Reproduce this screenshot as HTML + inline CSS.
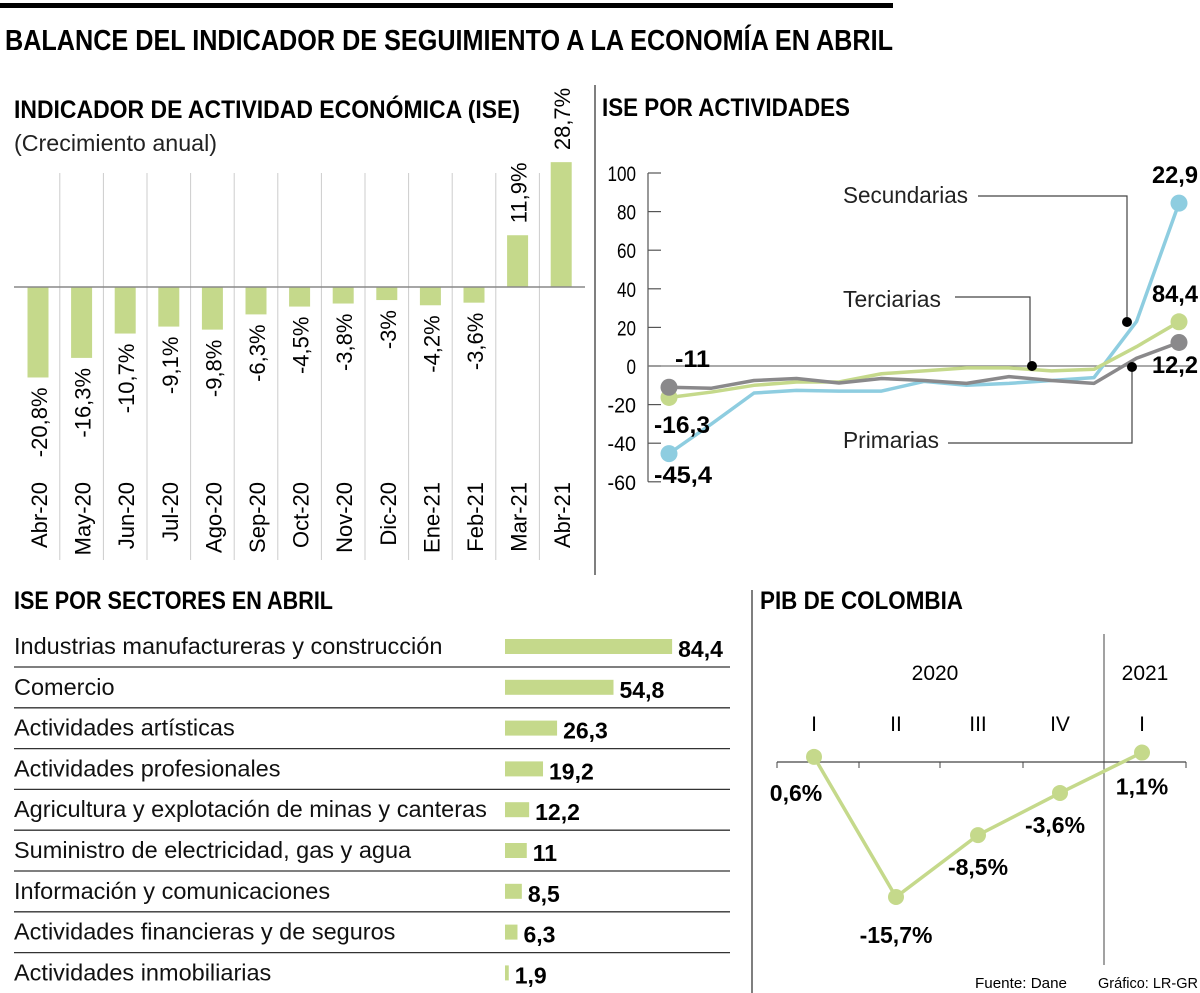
<!DOCTYPE html>
<html><head><meta charset="utf-8"><style>
body{margin:0;background:#fff}
svg{display:block;font-family:"Liberation Sans Narrow","Liberation Sans",sans-serif}
.b{font-weight:bold}
</style></head><body>
<svg id="s" width="1200" height="993" viewBox="0 0 1200 993">
<rect x="0" y="3" width="893" height="5" fill="#000"/>
<text x="5" y="50" font-size="29" class="b" textLength="888" lengthAdjust="spacingAndGlyphs">BALANCE DEL INDICADOR DE SEGUIMIENTO A LA ECONOMÍA EN ABRIL</text>
<text x="14" y="118" font-size="25" class="b" textLength="506" lengthAdjust="spacingAndGlyphs">INDICADOR DE ACTIVIDAD ECONÓMICA (ISE)</text>
<text x="14" y="151" font-size="23" fill="#222" textLength="203" lengthAdjust="spacingAndGlyphs">(Crecimiento anual)</text>
<text x="602" y="116" font-size="25" class="b" textLength="248" lengthAdjust="spacingAndGlyphs">ISE POR ACTIVIDADES</text>
<text x="14" y="609" font-size="25" class="b" textLength="319" lengthAdjust="spacingAndGlyphs">ISE POR SECTORES EN ABRIL</text>
<text x="760" y="609" font-size="25" class="b" textLength="203" lengthAdjust="spacingAndGlyphs">PIB DE COLOMBIA</text>
<line x1="595" y1="85" x2="595" y2="575" stroke="#555" stroke-width="1.5"/>
<line x1="752" y1="590" x2="752" y2="993" stroke="#555" stroke-width="1.5"/>
<text x="975" y="988" font-size="15" textLength="92" lengthAdjust="spacingAndGlyphs">Fuente: Dane</text>
<text x="1098" y="988" font-size="15" textLength="100" lengthAdjust="spacingAndGlyphs">Gráfico: LR-GR</text>
<g id="g1"></g><g id="g2"></g><g id="g3"></g><g id="g4"></g>
</svg>
<script>
// Chart 1: ISE monthly
const months=["Abr-20","May-20","Jun-20","Jul-20","Ago-20","Sep-20","Oct-20","Nov-20","Dic-20","Ene-21","Feb-21","Mar-21","Abr-21"];
const iseVals=[-20.8,-16.3,-10.7,-9.1,-9.8,-6.3,-4.5,-3.8,-3,-4.2,-3.6,11.9,28.7];
const iseLabels=["-20,8%","-16,3%","-10,7%","-9,1%","-9,8%","-6,3%","-4,5%","-3,8%","-3%","-4,2%","-3,6%","11,9%","28,7%"];
// Chart 2: ISE by activities
const actTicks=[100,80,60,40,20,0,-20,-40,-60];
const secundarias=[-45.4,-30,-14,-12.6,-13,-13,-8,-10,-9,-7.5,-6,23,84.4];
const terciarias=[-16.3,-13.5,-10,-8.3,-8.3,-4,-2.5,-1,-1,-2.5,-1.7,10,22.9];
const primarias=[-11,-11.5,-7.5,-6.5,-8.8,-6.5,-7.5,-9,-5.5,-7.5,-9,4,12.2];
// Chart 3: sectors
const sectors=["Industrias manufactureras y construcción","Comercio","Actividades artísticas","Actividades profesionales","Agricultura y explotación de minas y canteras","Suministro de electricidad, gas y agua","Información y comunicaciones","Actividades financieras y de seguros","Actividades inmobiliarias"];
const sectorVals=[84.4,54.8,26.3,19.2,12.2,11,8.5,6.3,1.9];
const sectorLabels=["84,4","54,8","26,3","19,2","12,2","11","8,5","6,3","1,9"];
// Chart 4: PIB
const quarters=["I","II","III","IV","I"];
const pibVals=[0.6,-15.7,-8.5,-3.6,1.1];
const pibLabels=["0,6%","-15,7%","-8,5%","-3,6%","1,1%"];

const NS="http://www.w3.org/2000/svg";
function mk(p,tag,at,txt){const e=document.createElementNS(NS,tag);for(const k in at)e.setAttribute(k,at[k]);if(txt!==undefined)e.textContent=txt;p.appendChild(e);return e;}
const G="#c5d98b";

// ---- chart 1
const g1=document.getElementById('g1');
const x1=i=>38+i*43.6, y1=v=>287-v*4.35;
for(let i=1;i<13;i++){const l=mk(g1,'line',{x1:x1(i)-21.8,y1:173,x2:x1(i)-21.8,y2:560,stroke:'#ccc','stroke-width':1});

}
months.forEach((m,i)=>{
 const v=iseVals[i];const top=Math.min(y1(v),y1(0)),h=Math.abs(y1(v)-y1(0));
 const r=mk(g1,'rect',{x:x1(i)-10.5,y:top,width:21,height:h,fill:G});
 
 
 const cx=x1(i)+9;
 const t=mk(g1,'text',{x:0,y:0,'font-size':22,'text-anchor':'end',transform:`translate(${cx},482) rotate(-90)`},m);
 
 
 let vt;
 if(v<0){vt=mk(g1,'text',{x:0,y:0,'font-size':22,'text-anchor':'end',transform:`translate(${cx},${y1(v)+10}) rotate(-90)`},iseLabels[i]);}
 else{vt=mk(g1,'text',{x:0,y:0,'font-size':22,'text-anchor':'start',transform:`translate(${cx},${y1(v)-12}) rotate(-90)`},iseLabels[i]);}
 
 
});
const z1=mk(g1,'line',{x1:14,y1:287,x2:585,y2:287,stroke:'#888','stroke-width':1.5});



// ---- chart 2
const g2=document.getElementById('g2');
const x2=i=>669+i*42.5, y2=v=>366-v*1.93;
const ax=mk(g2,'line',{x1:648,y1:y2(100),x2:648,y2:y2(-60),stroke:'#555','stroke-width':1.2});


actTicks.forEach(t=>{
 const tl=mk(g2,'line',{x1:648,y1:y2(t),x2:661,y2:y2(t),stroke:'#555','stroke-width':1.2});
 
 
 const s=String(t);
 const tt=mk(g2,'text',{x:636,y:y2(t)+8,'font-size':21,'text-anchor':'end',textLength:s.length*9.5,lengthAdjust:'spacingAndGlyphs'},s);
 
 
});
const z2=mk(g2,'line',{x1:648,y1:y2(0),x2:1190,y2:y2(0),stroke:'#777','stroke-width':1.2});


function series(vals,col,name){
 const l=mk(g2,'polyline',{points:vals.map((v,i)=>x2(i)+','+y2(v)).join(' '),fill:'none',stroke:col,'stroke-width':3.5,'stroke-linejoin':'round'});
 
 
 [0,vals.length-1].forEach(i=>{const c=mk(g2,'circle',{cx:x2(i),cy:y2(vals[i]),r:8.5,fill:col});
 
 });
}
series(secundarias,'#8ecde0','secundarias');
series(terciarias,G,'terciarias');
series(primarias,'#8a898b','primarias');
const ann=[["Secundarias",843,203,"M978,196 H1127 V322",1127,322,125],["Terciarias",843,307,"M955,297 H1030 V366",1032,366,98],["Primarias",843,448,"M948,443 H1132 V367",1132,367,96]];
ann.forEach(a=>{
 const t=mk(g2,'text',{x:a[1],y:a[2],'font-size':23,fill:'#222',textLength:a[6],lengthAdjust:'spacingAndGlyphs'},a[0]);
 
 
 const p=mk(g2,'path',{d:a[3],fill:'none',stroke:'#444','stroke-width':1.2});
 
 
 const d=mk(g2,'circle',{cx:a[4],cy:a[5],r:5,fill:'#000'});
 
 
});
[["22,9",1152,183,46],["84,4",1152,302,46],["12,2",1152,373,46],["-11",675,367,35],["-16,3",654,433,56],["-45,4",654,483,58]].forEach(a=>{
 const t=mk(g2,'text',{x:a[1],y:a[2],'font-size':24,'font-weight':'bold',textLength:a[3],lengthAdjust:'spacingAndGlyphs'},a[0]);
 
 
});

// ---- chart 3
const g3=document.getElementById('g3');
const w3=v=>v*1.98;
sectors.forEach((s,i)=>{
 const base=654+i*40.8;
 const t=mk(g3,'text',{x:14,y:base,'font-size':23.5,fill:'#111'},s);
 
 
 const r=mk(g3,'rect',{x:505,y:base-15,width:w3(sectorVals[i]),height:15,fill:G});
 
 
 const vt=mk(g3,'text',{x:505+w3(sectorVals[i])+6,y:base+3,'font-size':23,'font-weight':'bold'},sectorLabels[i]);
 
 
 if(i<sectors.length-1){const l=mk(g3,'line',{x1:14,y1:base+13,x2:730,y2:base+13,stroke:'#333','stroke-width':1.3});
 
 }
});

// ---- chart 4
const g4=document.getElementById('g4');
const x4=i=>814+i*82, y4=v=>762-v*8.6;
const z4=mk(g4,'line',{x1:777,y1:y4(0),x2:1186,y2:y4(0),stroke:'#444','stroke-width':1.2});


[777,859,940,1023,1186].forEach(x=>{const l=mk(g4,'line',{x1:x,y1:y4(0),x2:x,y2:y4(0)+6,stroke:'#444','stroke-width':1});

});
const sep=mk(g4,'line',{x1:1104,y1:634,x2:1104,y2:965,stroke:'#444','stroke-width':1});


const yr1=mk(g4,'text',{x:935,y:680,'font-size':21,'text-anchor':'middle'},'2020');


const yr2=mk(g4,'text',{x:1145,y:680,'font-size':21,'text-anchor':'middle'},'2021');


const pl=mk(g4,'polyline',{points:pibVals.map((v,i)=>x4(i)+','+y4(v)).join(' '),fill:'none',stroke:G,'stroke-width':3.5});


const lo=[[-18,44],[0,46],[0,40],[-5,40],[0,42]];
pibVals.forEach((v,i)=>{
 const q=mk(g4,'text',{x:x4(i),y:731,'font-size':21,'text-anchor':'middle'},quarters[i]);
 
 
 const c=mk(g4,'circle',{cx:x4(i),cy:y4(v),r:8,fill:G});
 
 
 const t=mk(g4,'text',{x:x4(i)+lo[i][0],y:y4(v)+lo[i][1],'font-size':23,'font-weight':'bold','text-anchor':'middle'},pibLabels[i]);
 
 
});
</script>
</body></html>
